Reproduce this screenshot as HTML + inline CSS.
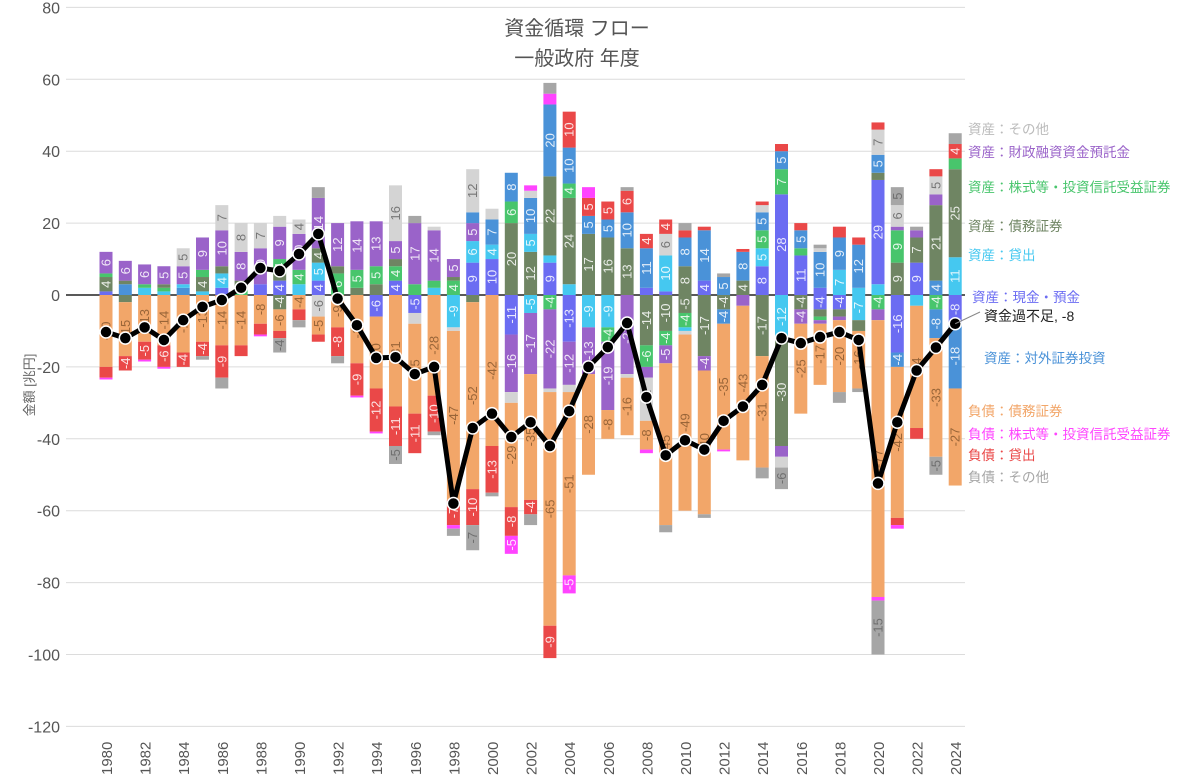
<!DOCTYPE html>
<html><head><meta charset="utf-8"><style>
html,body{margin:0;padding:0;background:#fff}
svg{display:block;font-family:"Liberation Sans","Noto Sans CJK JP",sans-serif}
</style></head><body>
<svg id="c" width="1200" height="781" viewBox="0 0 1200 781" xmlns="http://www.w3.org/2000/svg"></svg>
<script>
const svg=document.getElementById('c');
const Z=295, K=3.595;
const Y=v=>Z-v*K;
const X=i=>106+i*19.3;
const col={O:'#d4d4d4',P:'#9a63c9',G:'#48c56c',D:'#6f8563',C:'#45c8f0',B:'#6b6cf2',S:'#4a92d8',L:'#f2a669',M:'#ff44ff',R:'#ea4848',X:'#a6a6a6'};
const data=[
[[['B',1],['D',4],['G',1],['P',6]],[['L',-20],['R',-3],['M',-.5]]],
[[['S',3],['D',1],['P',5.5]],[['D',-2],['L',-15],['R',-4]]],
[[['C',2],['G',1],['P',5.5]],[['L',-13],['R',-5],['M',-.5]]],
[[['C',1],['G',1],['D',1],['P',5]],[['L',-14],['R',-6],['M',-.5]]],
[[['S',2],['C',1],['P',5],['O',5]],[['L',-16],['R',-4]]],
[[['C',1],['D',4],['G',2],['P',9]],[['L',-13],['R',-4],['X',-1]]],
[[['B',2],['C',4],['D',2],['P',10],['O',7]],[['L',-14],['R',-9],['X',-3]]],
[[['G',2],['D',2],['P',8],['O',8]],[['L',-14],['R',-3]]],
[[['B',3],['P',10],['O',7]],[['L',-8],['R',-3],['M',-.5]]],
[[['B',4],['D',2],['G',4],['P',9],['O',3]],[['D',-4],['L',-6],['R',-2],['X',-4]]],
[[['C',3],['G',4],['P',10],['O',4]],[['L',-4],['R',-3],['X',-2]]],
[[['B',4],['C',5],['D',4],['P',14],['X',3]],[['O',-6],['L',-5],['R',-2]]],
[[['G',6],['D',2],['P',12]],[['L',-9],['R',-8],['X',-2]]],
[[['D',2],['G',5],['P',13.5]],[['L',-19],['R',-9],['M',-.5]]],
[[['D',3],['G',5],['P',12.5]],[['B',-6],['L',-20],['R',-12],['M',-.5]]],
[[['B',4],['G',4],['D',2],['P',5],['O',15.5]],[['L',-31],['R',-11],['X',-5]]],
[[['G',3],['P',17],['X',2]],[['B',-5],['O',-3],['L',-25],['R',-11]]],
[[['C',2],['G',2],['P',14],['O',1]],[['L',-28],['R',-10],['X',-1]]],
[[['G',4],['D',1],['P',5]],[['C',-9],['O',-1],['L',-47],['R',-7],['M',-1],['X',-2]]],
[[['B',9],['C',6],['P',5],['S',3],['O',12]],[['D',-2],['L',-52],['R',-10],['X',-7]]],
[[['B',10],['C',4],['S',7],['O',3]],[['L',-42],['R',-13],['X',-1]]],
[[['D',20],['G',6],['S',8]],[['B',-11],['P',-16],['O',-3],['L',-29],['R',-8],['M',-5]]],
[[['D',12],['C',5],['S',10],['O',2],['M',1.5]],[['C',-5],['P',-17],['L',-35],['R',-4],['X',-3]]],
[[['B',9],['C',2],['D',22],['S',20],['M',3],['X',3]],[['G',-4],['P',-22],['O',-1],['L',-65],['R',-9]]],
[[['C',3],['D',24],['G',4],['S',10],['R',10]],[['B',-13],['P',-12],['O',-2],['L',-51],['M',-5]]],
[[['D',17],['S',5],['R',5],['M',3]],[['C',-9],['P',-13],['L',-28]]],
[[['D',16],['S',5],['R',5]],[['C',-9],['G',-4],['P',-19],['L',-8]]],
[[['D',13],['S',10],['R',6],['X',1]],[['P',-22],['O',-1],['L',-16]]],
[[['B',2],['S',11],['R',4]],[['D',-14],['G',-6],['P',-3],['O',-12],['L',-8],['M',-1]]],
[[['B',1],['C',10],['O',6],['R',4]],[['D',-10],['G',-4],['P',-5],['L',-45],['X',-2]]],
[[['D',8],['S',8],['R',2],['X',2]],[['D',-5],['G',-4],['C',-1],['O',-1],['L',-49]]],
[[['B',4],['S',14],['R',1]],[['D',-17],['P',-4],['L',-40],['X',-1]]],
[[['S',5],['X',1]],[['D',-4],['S',-4],['L',-35],['M',-.5]]],
[[['D',4],['S',8],['R',.8]],[['P',-3],['L',-43]]],
[[['B',8],['C',5],['G',5],['S',5],['O',2],['R',1]],[['D',-17],['L',-31],['X',-3]]],
[[['B',28],['G',7],['S',5],['R',2]],[['C',-12],['D',-30],['P',-3],['O',-3],['X',-6]]],
[[['B',11],['G',2],['S',5],['R',2]],[['D',-4],['P',-4],['L',-25]]],
[[['B',2],['S',10],['O',1],['X',1]],[['B',-4],['D',-2],['G',-1],['P',-1],['L',-17]]],
[[['C',7],['S',9],['R',3]],[['B',-4],['D',-2],['P',-1],['L',-20],['X',-3]]],
[[['C',2],['S',12],['R',2]],[['C',-7],['D',-3],['L',-16],['X',-1]]],
[[['C',3],['B',29],['D',2],['S',5],['O',7],['R',2]],[['G',-4],['P',-3],['L',-77],['M',-1],['X',-15]]],
[[['D',9],['G',9],['P',1],['O',6],['X',5]],[['B',-16],['S',-4],['L',-42],['R',-2],['M',-1]]],
[[['B',9],['D',7],['P',2],['X',1]],[['C',-3],['L',-34],['R',-3]]],
[[['S',4],['D',21],['P',3],['O',5],['R',2]],[['G',-4],['S',-8],['L',-33],['X',-5]]],
[[['C',10.5],['D',24.5],['G',3],['R',4],['X',3]],[['B',-8],['S',-18],['L',-27]]]
];
const line=[-10.3,-12,-9,-12.5,-7,-3.3,-1.4,2,7.5,6.7,11.4,17,-1,-8.4,-17.5,-17.3,-22,-20,-58,-37,-33,-39.5,-35.4,-42,-32.3,-20,-14.5,-7.8,-28.4,-44.6,-40.4,-43,-35,-31,-25,-12,-13.4,-11.7,-10.3,-12.5,-52.4,-35.4,-21,-14.6,-8];
let h='';
// grid
for(let v=80;v>=-120;v-=20){const y=Y(v);h+=`<line x1="66" x2="965" y1="${y}" y2="${y}" stroke="${v==0?'#222':'#dcdcdc'}" stroke-width="${v==0?1.5:1}"/>`;
h+=`<text x="60" y="${y+6}" text-anchor="end" font-size="16" fill="#555">${v}</text>`;}
h+=`<text transform="translate(34,385) rotate(-90)" text-anchor="middle" font-size="13" fill="#666">金額 [兆円]</text>`;
const bw=13;
data.forEach((d,i)=>{const x=X(i)-bw/2;
 [d[0],d[1]].forEach(arr=>{let c=0;arr.forEach(([k,v])=>{const y1=Y(c),y2=Y(c+v);c+=v;
  const t=Math.min(y1,y2),hh=Math.abs(y2-y1);
  h+=`<rect x="${x}" y="${t}" width="${bw}" height="${hh}" fill="${col[k]}"/>`;
  if(Math.abs(v)>=4){const cy=t+hh/2;h+=`<text transform="translate(${X(i)+4.5},${cy}) rotate(-90)" text-anchor="middle" font-size="13" fill="${k=='L'?'#8a5a30':(k=='O'||k=='X')?'#666':'#fff'}" opacity="0.85">${Math.round(v)}</text>`;}
 });});
 if(i%2==0)h+=`<text transform="translate(${X(i)+6},775) rotate(-90)" font-size="15" fill="#555">${1980+i}</text>`;
});
h+=`<polyline fill="none" stroke="#000" stroke-width="5" stroke-linejoin="round" points="${line.map((v,i)=>X(i)+','+Y(v)).join(' ')}"/>`;
line.forEach((v,i)=>{h+=`<circle cx="${X(i)}" cy="${Y(v)}" r="6" fill="#000" stroke="#fff" stroke-width="1.5"/>`;});
h+=`<line x1="${X(44)}" y1="${Y(-8)}" x2="980" y2="312" stroke="#888"/>`;
h+=`<text x="984" y="321" font-size="14" fill="#222">資金過不足, -8</text>`;
h+=`<text x="577" y="35" text-anchor="middle" font-size="20" fill="#555">資金循環 フロー</text>`;
h+=`<text x="577" y="65" text-anchor="middle" font-size="20" fill="#555">一般政府 年度</text>`;
const leg=[[968,134,'#bbb','資産：その他'],[968,157,'#9a63c9','資産：財政融資資金預託金'],[968,192,'#48c56c','資産：株式等・投資信託受益証券'],[968,231,'#6f8563','資産：債務証券'],[968,260,'#45c8f0','資産：貸出'],[972,302,'#6b6cf2','資産：現金・預金'],[984,363,'#4a92d8','資産：対外証券投資'],[968,416,'#f2a669','負債：債務証券'],[968,439,'#ff44ff','負債：株式等・投資信託受益証券'],[968,460,'#ea4848','負債：貸出'],[968,482,'#a6a6a6','負債：その他']];
leg.forEach(([x,y,c,t])=>{h+=`<text x="${x}" y="${y}" font-size="13.5" fill="${c}">${t}</text>`;});
svg.innerHTML=h;
</script>
</body></html>
